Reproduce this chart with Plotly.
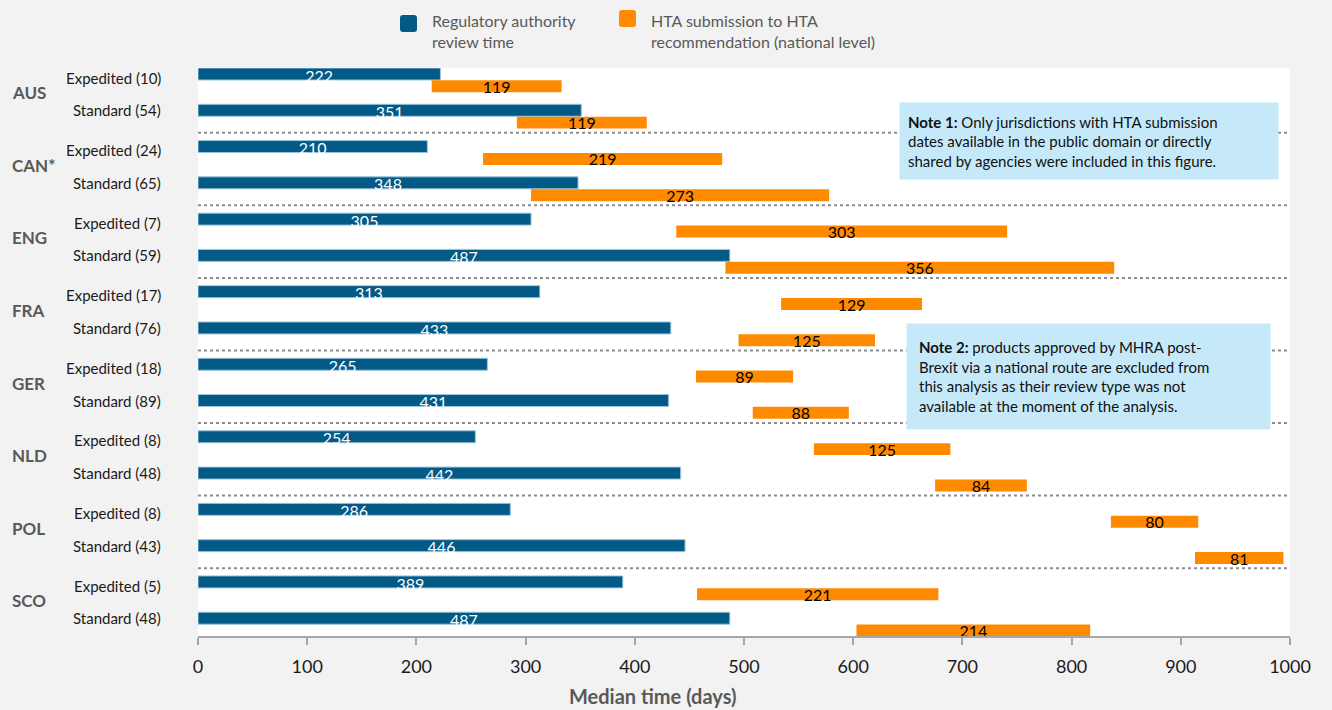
import plotly.graph_objects as go

# ---- data -------------------------------------------------------------
countries = ["AUS", "CAN*", "ENG", "FRA", "GER", "NLD", "POL", "SCO"]
n_expedited = [10, 24, 7, 17, 18, 8, 8, 5]
n_standard = [54, 65, 59, 76, 89, 48, 43, 48]

# regulatory authority review time (days)
reg_expedited = [222, 210, 305, 313, 265, 254, 286, 389]
reg_standard = [351, 348, 487, 433, 431, 442, 446, 487]

# HTA submission -> HTA recommendation (days) and the day it starts
hta_expedited = [119, 219, 303, 129, 89, 125, 80, 221]
hta_standard = [119, 273, 356, 125, 88, 84, 81, 214]
hta_expedited_start = [214, 261, 438, 534, 456, 564, 836, 457]
hta_standard_start = [292, 305, 483, 495, 508, 675, 913, 603]

x_ticks = list(range(0, 1001, 100))

# ---- styling ----------------------------------------------------------
BLUE = "#045a86"
ORANGE = "#ff8a00"
FONT = "Lato"
PAPER = "#f2f2f2"

# plot frame in pixels
FIG_W, FIG_H = 1332, 710
L, R, T, B = 198, 1290, 68, 636
PW, PH = R - L, B - T


def px(x):
    return (x - L) / PW


def py(y):
    return (B - y) / PH


ORANGE_SHIFT = 0.34   # orange bar sits just below its blue bar
BAR_W = 0.33
LABEL_SHIFT = 0.1

# ---- rows ---------------------------------------------------------------
row_y, reg_vals, hta_vals, hta_base, row_names = [], [], [], [], []
for i in range(len(countries)):
    row_y += [2 * i, 2 * i + 1]
    reg_vals += [reg_expedited[i], reg_standard[i]]
    hta_vals += [hta_expedited[i], hta_standard[i]]
    hta_base += [hta_expedited_start[i], hta_standard_start[i]]
    row_names += [f"Expedited ({n_expedited[i]})", f"Standard ({n_standard[i]})"]

hta_y = [y + ORANGE_SHIFT for y in row_y]

fig = go.Figure()

fig.add_trace(go.Bar(
    orientation="h", x=reg_vals, y=row_y, width=BAR_W,
    marker=dict(color=BLUE, line=dict(color="#9cc4dc", width=1)),
    name="Regulatory authority review time", hoverinfo="x",
))
fig.add_trace(go.Bar(
    orientation="h", x=hta_vals, base=hta_base, y=hta_y, width=BAR_W,
    marker=dict(color=ORANGE, line=dict(width=0)),
    name="HTA submission to HTA recommendation (national level)", hoverinfo="x",
))

# value labels
fig.add_trace(go.Scatter(
    mode="text", x=[v / 2 for v in reg_vals],
    y=[y + LABEL_SHIFT for y in row_y],
    text=[str(v) for v in reg_vals],
    textfont=dict(family=FONT, size=16, color="white"),
    hoverinfo="skip",
))
fig.add_trace(go.Scatter(
    mode="text", x=[b + v / 2 for b, v in zip(hta_base, hta_vals)],
    y=[y + 0.07 for y in hta_y],
    text=[str(v) for v in hta_vals],
    textfont=dict(family=FONT, size=16, color="black"),
    hoverinfo="skip",
))

shapes = []
annotations = []

# dotted separators between jurisdictions
for i in range(len(countries) - 1):
    yy = 2 * i + 1.62
    shapes.append(dict(type="line", xref="x", yref="y", x0=0, x1=1000, y0=yy, y1=yy,
                       line=dict(color="#8c8c8c", width=2, dash="dot"), layer="below"))

# row labels and jurisdiction labels
for k, (y, name) in enumerate(zip(row_y, row_names)):
    annotations.append(dict(
        xref="paper", yref="y", x=px(163), y=y + (0.1 if k % 2 == 0 else 0.0),
        xanchor="right", yanchor="middle", text=name, showarrow=False,
        font=dict(family=FONT, size=15, color="#1a1a1a"),
    ))
for i, c in enumerate(countries):
    annotations.append(dict(
        xref="paper", yref="y", x=px(10), y=2 * i + 0.52,
        xanchor="left", yanchor="middle", text=f"<b>{c}</b>", showarrow=False,
        font=dict(family=FONT, size=17, color="#595959"),
    ))

# legend
def rounded_square(x0, y0, size, r, color):
    x1, y1 = x0 + size, y0 + size
    pts = (f"M {px(x0 + r)} {py(y0)} L {px(x1 - r)} {py(y0)} "
           f"Q {px(x1)} {py(y0)} {px(x1)} {py(y0 + r)} L {px(x1)} {py(y1 - r)} "
           f"Q {px(x1)} {py(y1)} {px(x1 - r)} {py(y1)} L {px(x0 + r)} {py(y1)} "
           f"Q {px(x0)} {py(y1)} {px(x0)} {py(y1 - r)} L {px(x0)} {py(y0 + r)} "
           f"Q {px(x0)} {py(y0)} {px(x0 + r)} {py(y0)} Z")
    return dict(type="path", xref="paper", yref="paper", path=pts,
                fillcolor=color, line=dict(width=0))


shapes.append(rounded_square(400, 15, 17, 3, BLUE))
shapes.append(rounded_square(619, 10, 17, 3, ORANGE))
annotations.append(dict(
    xref="paper", yref="paper", x=px(430), y=py(31.5), xanchor="left", yanchor="middle",
    text="Regulatory authority<br>review time", showarrow=False, align="left",
    font=dict(family=FONT, size=16, color="#595959"),
))
annotations.append(dict(
    xref="paper", yref="paper", x=px(649), y=py(31.5), xanchor="left", yanchor="middle",
    text="HTA submission to HTA<br>recommendation (national level)", showarrow=False,
    align="left", font=dict(family=FONT, size=16, color="#595959"),
))

# notes
annotations.append(dict(
    xref="paper", yref="paper", x=px(1089), y=py(141), xanchor="center", yanchor="middle",
    text=("<b>Note 1:</b> Only jurisdictions with HTA submission<br>"
          "dates available in the public domain or directly<br>"
          "shared by agencies were included in this figure."),
    showarrow=False, align="left", valign="middle", width=362, height=60,
    borderpad=8, bgcolor="#c6e9fa", font=dict(family=FONT, size=15, color="#111111"),
))
annotations.append(dict(
    xref="paper", yref="paper", x=px(1088.5), y=py(376.7), xanchor="center", yanchor="middle",
    text=("<b>Note 2:</b> products approved by MHRA post-<br>"
          "Brexit via a national route are excluded from<br>"
          "this analysis as their review type was not<br>"
          "available at the moment of the analysis."),
    showarrow=False, align="left", valign="middle", width=339, height=81,
    borderpad=12, bgcolor="#c6e9fa", font=dict(family=FONT, size=15, color="#111111"),
))

# axis title
annotations.append(dict(
    xref="paper", yref="paper", x=px(652), y=py(696), xanchor="center", yanchor="middle",
    text="<b>Median time (days)</b>", showarrow=False,
    font=dict(family=FONT, size=20, color="#595959"),
))

rows_top = (T - 74) / 36.28
rows_bottom = (B - 74) / 36.28

fig.update_layout(
    width=FIG_W, height=FIG_H,
    margin=dict(l=L, r=FIG_W - R, t=T, b=FIG_H - B, pad=0),
    paper_bgcolor=PAPER, plot_bgcolor="white",
    barmode="overlay", showlegend=False,
    shapes=shapes, annotations=annotations,
    xaxis=dict(
        range=[0, 1000], tickvals=x_ticks, ticktext=[str(t) for t in x_ticks],
        showgrid=False, zeroline=False, showline=True, linecolor="#a6a6a6", linewidth=2,
        ticks="outside", ticklen=7, tickwidth=2, tickcolor="#a6a6a6",
        tickfont=dict(family=FONT, size=18, color="#1a1a1a"), ticklabelstandoff=6,
        fixedrange=True,
    ),
    yaxis=dict(
        range=[rows_bottom, rows_top], showgrid=False, zeroline=False,
        showticklabels=False, showline=False, ticks="", fixedrange=True,
    ),
)

fig.write_html("out.html")
